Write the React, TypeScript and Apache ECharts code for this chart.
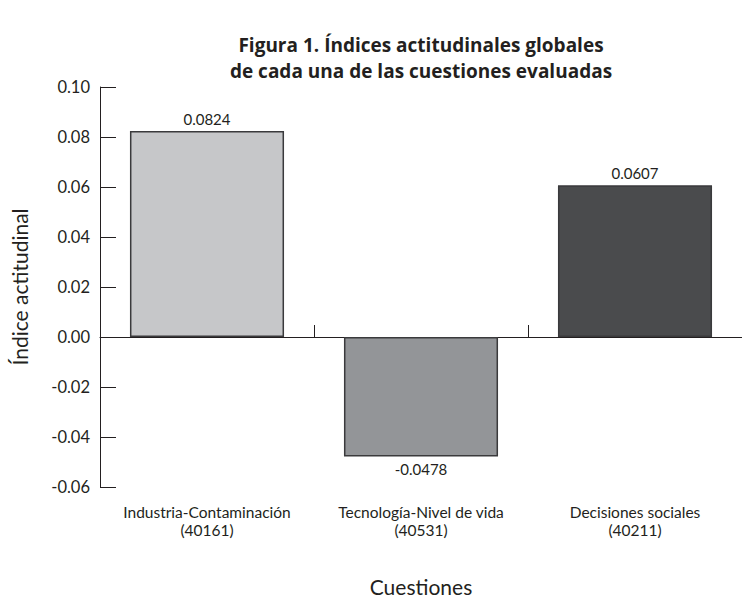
import React, { useEffect, useRef } from "react";
import * as echarts from "echarts";

const TITLE_LINES = [
  "Figura 1. Índices actitudinales globales",
  "de cada una de las cuestiones evaluadas",
];
const CATEGORIES = [
  "Industria-Contaminación",
  "Tecnología-Nivel de vida",
  "Decisiones sociales",
];
const CODES = ["(40161)", "(40531)", "(40211)"];
const VALUES = [0.0824, -0.0478, 0.0607];
const BAR_COLORS = ["#c6c7c9", "#939598", "#4a4b4d"];
const Y_MIN = -0.06;
const Y_MAX = 0.1;
const Y_STEP = 0.02;
const Y_NAME = "Índice actitudinal";
const X_NAME = "Cuestiones";

const FONT = "Lato, 'Open Sans', sans-serif";
const INK = "#231f20";

export default function App() {
  const ref = useRef<HTMLDivElement>(null);

  useEffect(() => {
    if (!ref.current) return;
    const chart = echarts.init(ref.current, null, { renderer: "svg" });
    const labels = CATEGORIES.map((c, i) => c + "\n" + CODES[i]);
    chart.setOption({
      animation: false,
      backgroundColor: "#ffffff",
      textStyle: { fontFamily: FONT },
      title: {
        text: TITLE_LINES.join("\n"),
        left: 416,
        textAlign: "center",
        top: 27,
        textStyle: {
          fontFamily: "'Open Sans', sans-serif",
          fontSize: 19,
          fontWeight: "bold",
          lineHeight: 26,
          color: INK,
        },
      },
      grid: { left: 100, right: 0, top: 87, bottom: 106, containLabel: false },
      xAxis: [
        {
          type: "category",
          data: labels,
          position: "bottom",
          axisLine: { show: true, onZero: true, lineStyle: { color: INK, width: 1 } },
          axisTick: { show: true, inside: true, length: 12, lineStyle: { color: INK } },
          axisLabel: { show: false },
          splitLine: { show: false },
        },
        {
          type: "category",
          data: labels,
          position: "bottom",
          axisLine: { show: false, onZero: false },
          axisTick: { show: false },
          axisLabel: {
            show: true,
            interval: 0,
            hideOverlap: false,
            fontSize: 15.5,
            lineHeight: 18,
            color: INK,
            margin: 16,
            fontFamily: FONT,
          },
          name: X_NAME,
          nameLocation: "middle",
          nameGap: 89,
          nameTextStyle: { fontSize: 21, color: INK, fontFamily: FONT },
        },
      ],
      yAxis: {
        type: "value",
        min: Y_MIN,
        max: Y_MAX,
        interval: Y_STEP,
        name: Y_NAME,
        nameLocation: "middle",
        nameGap: 70,
        nameTextStyle: { fontSize: 21, color: INK, fontFamily: FONT },
        axisLine: { show: true, lineStyle: { color: INK, width: 1 } },
        axisTick: { show: true, inside: true, length: 16, lineStyle: { color: INK } },
        axisLabel: {
          fontSize: 16.5,
          color: INK,
          margin: 10,
          fontFamily: FONT,
          formatter: (v: number) => v.toFixed(2),
        },
        splitLine: { show: false },
      },
      series: [
        {
          type: "bar",
          xAxisIndex: 0,
          barWidth: "72%",
          data: VALUES.map((v, i) => ({
            value: v,
            itemStyle: { color: BAR_COLORS[i] },
            label: { position: v < 0 ? "bottom" : "top" },
          })),
          itemStyle: { borderColor: "#3a3a3c", borderWidth: 1.5 },
          label: {
            show: true,
            fontSize: 15,
            color: INK,
            distance: 5,
            fontFamily: FONT,
            formatter: (p: any) => Number(p.value).toFixed(4),
          },
        },
      ],
    });
    return () => chart.dispose();
  }, []);

  return (
    <div
      ref={ref}
      style={{ position: "fixed", left: 0, top: 0, width: 742, height: 602 }}
    />
  );
}
